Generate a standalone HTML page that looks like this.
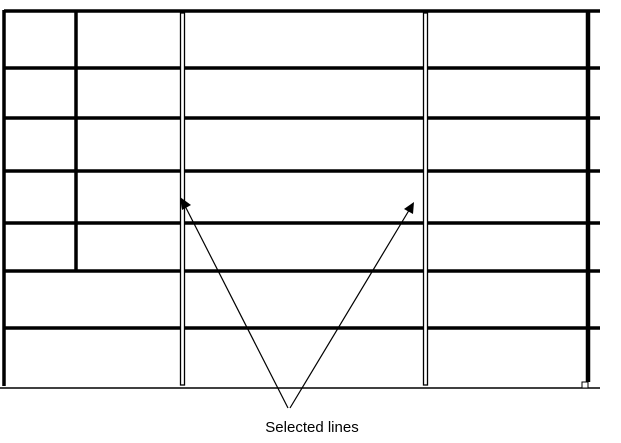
<!DOCTYPE html>
<html><head><style>body{margin:0;background:#fff}</style></head><body>
<svg width="621" height="438" xmlns="http://www.w3.org/2000/svg">
<g stroke="#000" fill="none">
<g stroke-width="3.5">
<line x1="4" y1="11" x2="600" y2="11"/>
<line x1="4" y1="68" x2="600" y2="68"/>
<line x1="4" y1="118" x2="600" y2="118"/>
<line x1="4" y1="171" x2="600" y2="171"/>
<line x1="4" y1="223" x2="600" y2="223"/>
<line x1="4" y1="271" x2="600" y2="271"/>
<line x1="4" y1="328" x2="600" y2="328"/>
<line x1="4" y1="10" x2="4" y2="386"/>
<line x1="76" y1="10" x2="76" y2="270"/>
</g>
<line x1="588" y1="10" x2="588" y2="382" stroke-width="4.5"/>
<line x1="0" y1="388" x2="600" y2="388" stroke-width="1.5"/>
<rect x="180.5" y="13" width="4" height="372" stroke-width="1.3" fill="#fff"/>
<rect x="423.5" y="13" width="4" height="372" stroke-width="1.3" fill="#fff"/>
<rect x="582" y="382" width="6" height="6" stroke-width="1" fill="#fff"/>
<line x1="288" y1="408" x2="183" y2="202" stroke-width="1.2"/>
<line x1="290" y1="408" x2="411" y2="207" stroke-width="1.2"/>
</g>
<polygon points="180,197 191,205 182,210" fill="#000"/>
<polygon points="414,202 413,214 404,209" fill="#000"/>
<text x="312" y="432" font-family="Liberation Sans, sans-serif" font-size="15" text-anchor="middle">Selected lines</text>
</svg>
</body></html>
